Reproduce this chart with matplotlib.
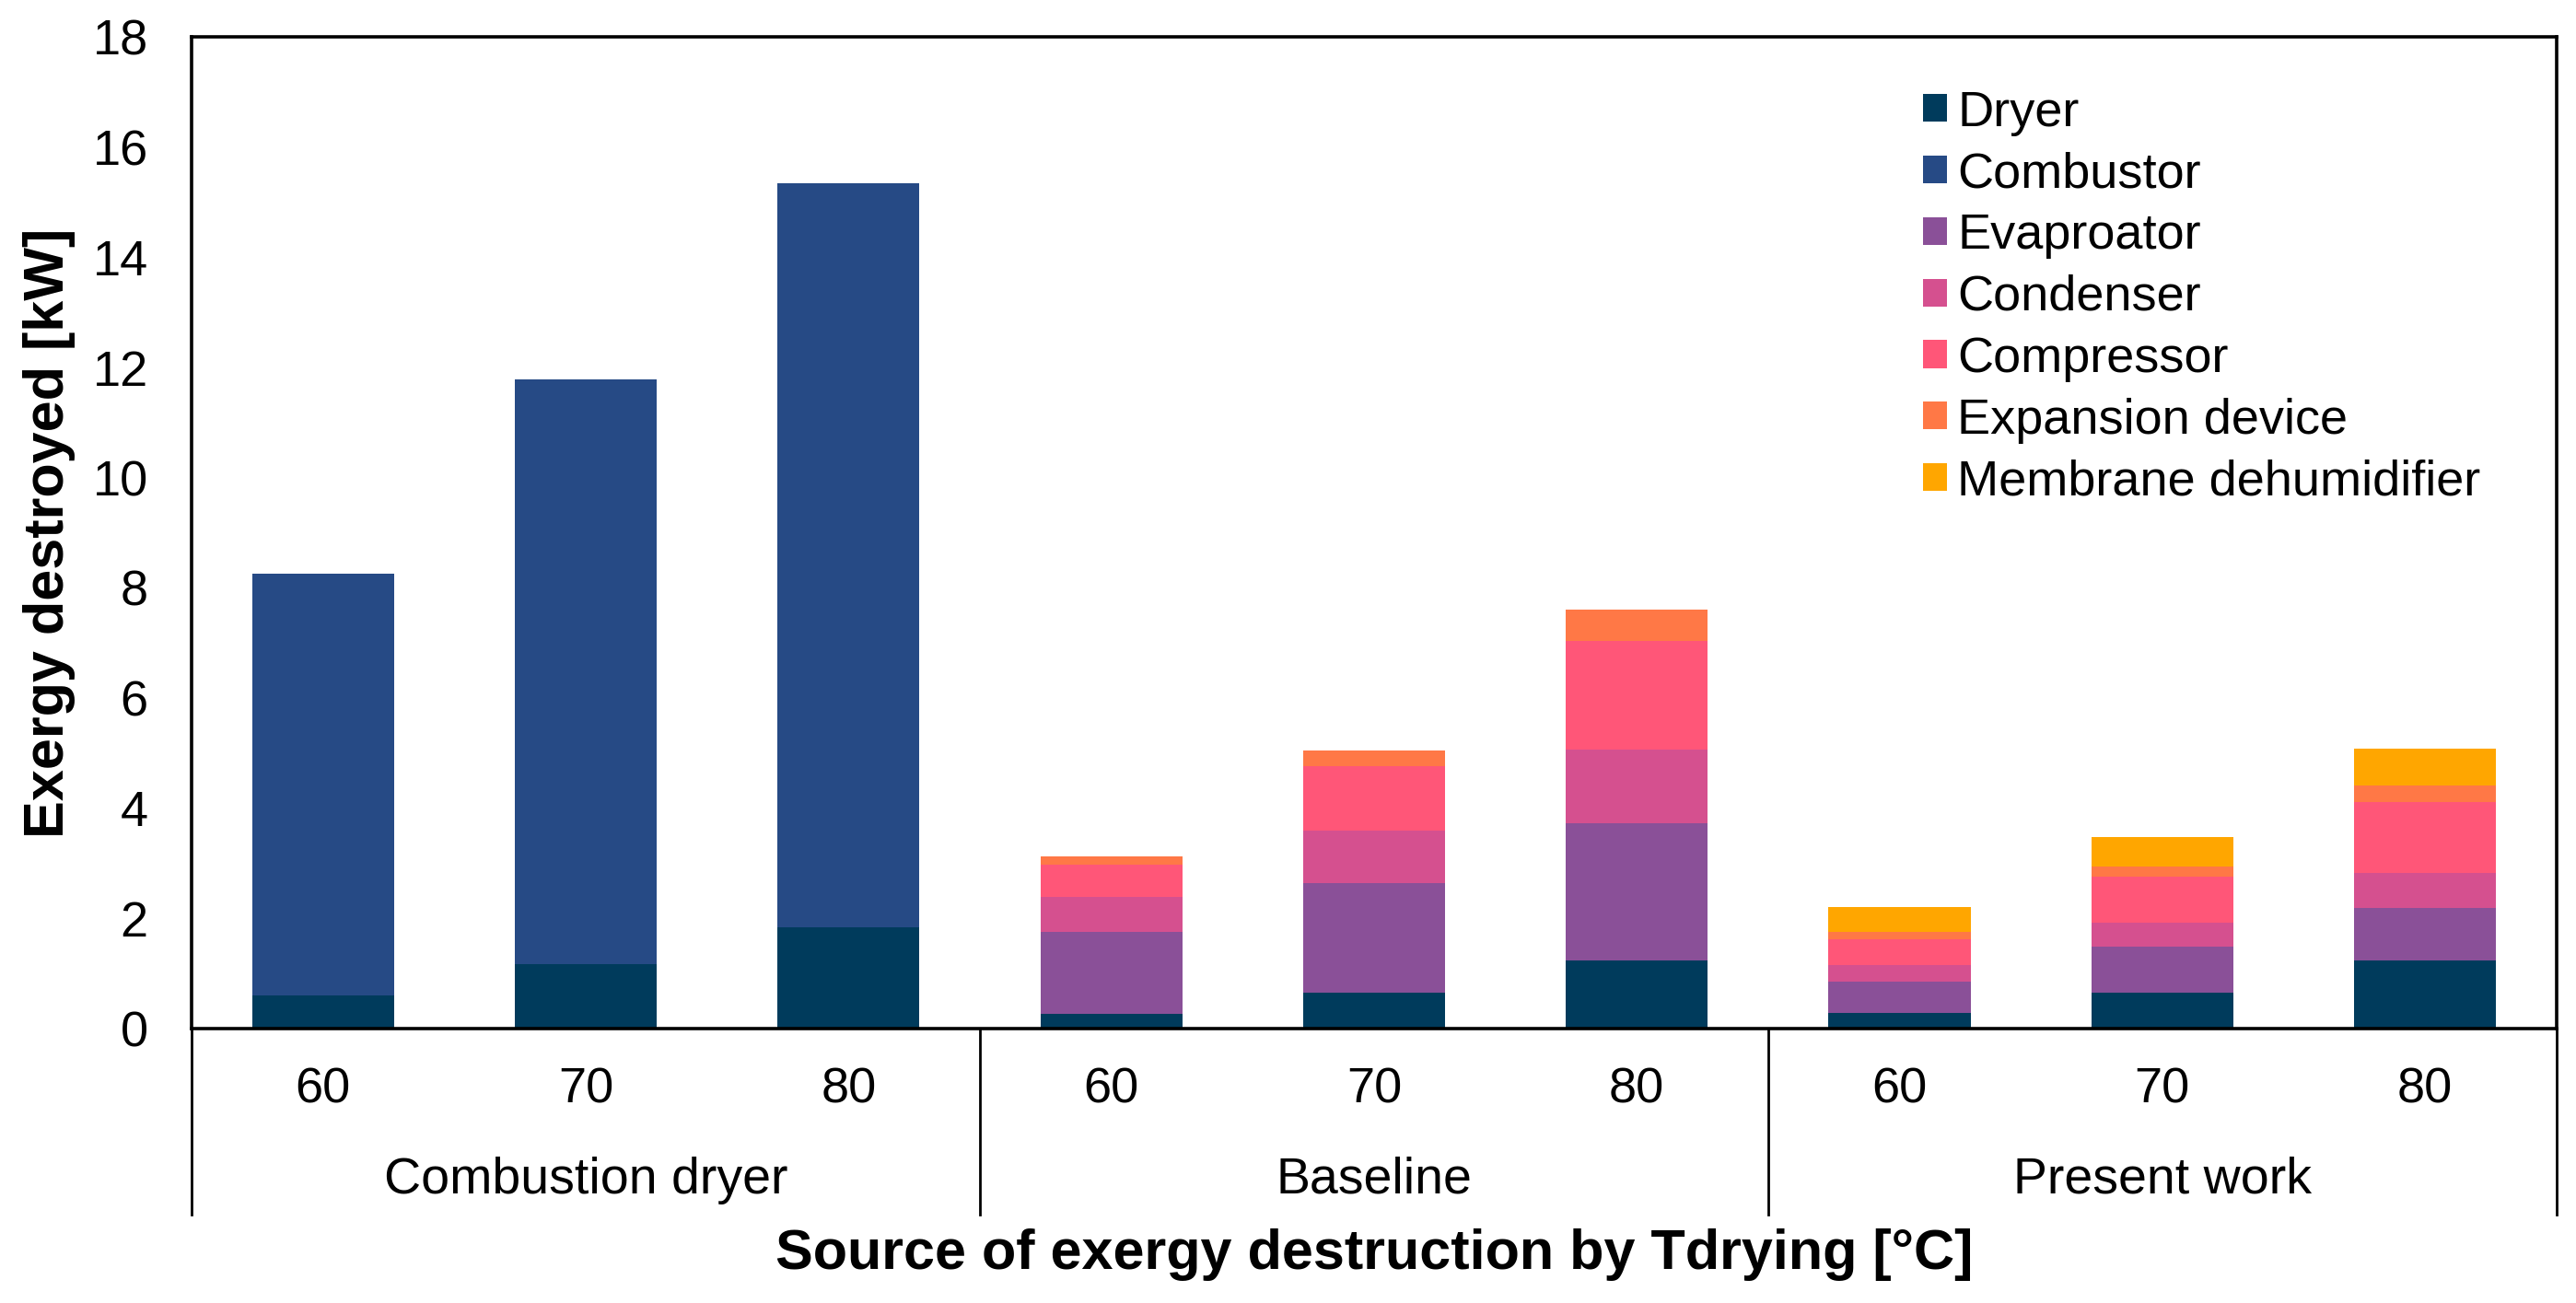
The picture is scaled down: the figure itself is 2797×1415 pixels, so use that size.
import matplotlib
matplotlib.use("Agg")
import matplotlib.pyplot as plt
import numpy as np

plt.rcParams['font.family'] = ['Liberation Sans', 'DejaVu Sans']

# Data (kW)
groups = ['Combustion dryer', 'Baseline', 'Present work']
temps = ['60', '70', '80']
components = ['Dryer', 'Combustor', 'Evaproator', 'Condenser', 'Compressor',
              'Expansion device', 'Membrane dehumidifier']

dryer = [0.61, 1.17, 1.84, 0.27, 0.66, 1.23, 0.28, 0.66, 1.23]
combustor = [7.64, 10.62, 13.50, 0, 0, 0, 0, 0, 0]
evaporator = [0, 0, 0, 1.48, 1.98, 2.50, 0.57, 0.83, 0.96]
condenser = [0, 0, 0, 0.64, 0.96, 1.34, 0.31, 0.44, 0.64]
compressor = [0, 0, 0, 0.58, 1.16, 1.96, 0.46, 0.83, 1.28]
expansion = [0, 0, 0, 0.15, 0.28, 0.58, 0.13, 0.19, 0.30]
membrane = [0, 0, 0, 0, 0, 0, 0.45, 0.52, 0.68]

colors = ['#003b5c', '#264a85', '#8a5098', '#d5508f', '#ff5678', '#ff7846', '#ffa600']

series = [dryer, combustor, evaporator, condenser, compressor, expansion, membrane]

fig = plt.figure(figsize=(27.97, 14.15), dpi=100)
ax = fig.add_axes([0.0744, 0.2106, 0.918, 0.761])

x = np.arange(len(groups) * len(temps))
bottom = np.zeros(len(x))
for name, vals, c in zip(components, series, colors):
    vals = np.array(vals)
    ax.bar(x, vals, 0.54, bottom=bottom, color=c, label=name)
    bottom += vals

ax.set_xlim(-0.5, len(x) - 0.5)
ax.set_ylim(0, 18)
ax.set_yticks(np.arange(0, 19, 2))
ax.tick_params(axis='y', labelsize=39, length=0, pad=34)

ax.set_xticks(x)
ax.set_xticklabels(temps * len(groups))
ax.tick_params(axis='x', labelsize=39, length=0, pad=30)

for sp in ax.spines.values():
    sp.set_linewidth(2.6)

# group labels and separators below the axis
trans = ax.get_xaxis_transform()
for i, g in enumerate(groups):
    ax.text(i * 3 + 1, -0.153, g, transform=trans, ha='center', va='center', fontsize=40)
for xs in [-0.5, 2.5, 5.5, 8.5]:
    ax.plot([xs, xs], [0, -0.188], transform=trans, color='black', lw=2.0, clip_on=False)

ax.text(0.5, -0.228, 'Source of exergy destruction by Tdrying [°C]', transform=ax.transAxes,
        ha='center', va='center', fontsize=44, fontweight='bold')
ax.set_ylabel('Exergy destroyed [kW]', fontsize=44, fontweight='bold')
ax.yaxis.set_label_coords(-0.049, 0.5)

ax.legend(loc='upper left', bbox_to_anchor=(0.713, 0.992), frameon=False, fontsize=39,
          handlelength=0.48, handleheight=0.48, handletextpad=0.22, labelspacing=0.31)

fig.savefig('out.png', dpi=100)
